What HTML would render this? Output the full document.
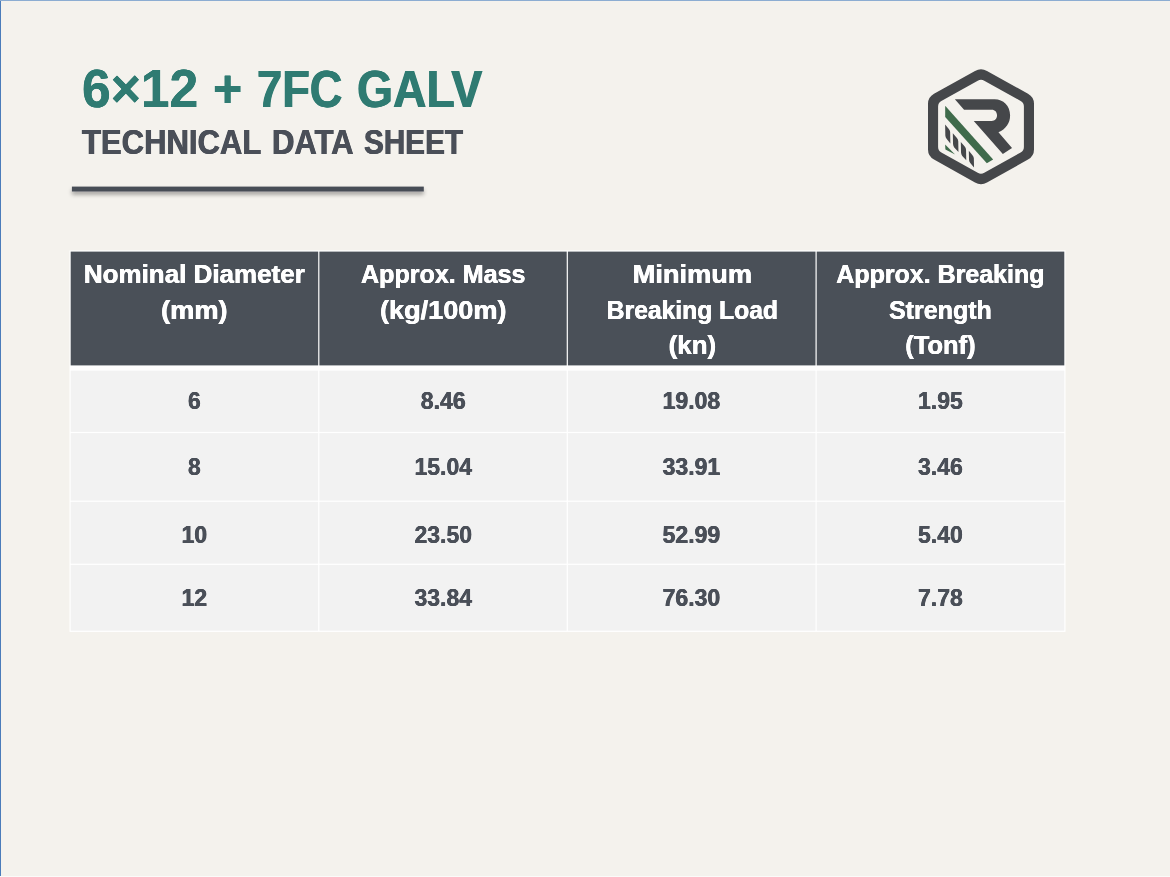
<!DOCTYPE html>
<html lang="en">
<head>
<meta charset="utf-8">
<title>6×12 + 7FC GALV – Technical Data Sheet</title>
<style>
html,body{margin:0;padding:0;}
body{width:1170px;height:877px;position:relative;overflow:hidden;background:#f4f2ed;
  font-family:"Liberation Sans",sans-serif;font-weight:bold;color:#4a4f58;}
.edge-l{position:absolute;left:0;top:0;width:1px;height:877px;background:#4a7cba;}
.edge-t{position:absolute;left:0;top:0;width:1170px;height:1px;background:#8cadd2;}
.edge-b{position:absolute;left:0;top:876px;width:1170px;height:1px;background:#fbfbf9;}
.t{position:absolute;left:0;top:0;width:700px;height:0;white-space:nowrap;line-height:1;margin:0;font-weight:bold;}
.t span{position:absolute;transform-origin:0 0;}
h1.t{color:#2f7b72;}
h2.t{color:#4a4f58;}
svg{position:absolute;left:0;top:0;}
.th,.td{position:absolute;text-align:center;white-space:nowrap;}
.th{top:257.45px;color:#fff;font-size:26px;line-height:35.3px;text-shadow:0.3px 0 0 #fff,-0.3px 0 0 #fff;}
.th span{display:block;transform-origin:50% 50%;}
.td{height:40px;line-height:40px;font-size:23.2px;color:#4a4f58;text-shadow:0.3px 0 0 #4a4f58,-0.3px 0 0 #4a4f58;}
.td span{display:block;transform-origin:50% 50%;}
</style>
</head>
<body>
<div class="edge-l"></div><div class="edge-t"></div><div class="edge-b"></div>
<h1 class="t"><span style="left:82.29px;top:61.66px;font-size:53.8px;text-shadow:0.2px 0 0 currentColor,-0.2px 0 0 currentColor;transform:scaleX(0.9592)">6×12</span> <span style="left:213.47px;top:61.49px;font-size:54px;text-shadow:0.3px 0 0 currentColor,-0.3px 0 0 currentColor;transform:scaleX(0.9263)">+</span> <span style="left:256.79px;top:62.76px;font-size:52.5px;text-shadow:0.6px 0 0 currentColor,-0.6px 0 0 currentColor;transform:scaleX(0.8623)">7FC</span> <span style="left:356.50px;top:62.58px;font-size:52px;text-shadow:0.6px 0 0 currentColor,-0.6px 0 0 currentColor;transform:scaleX(0.8910)">GALV</span></h1>
<h2 class="t"><span style="left:82.12px;top:124.56px;font-size:35.6px;text-shadow:0.45px 0 0 currentColor,-0.45px 0 0 currentColor;transform:scaleX(0.8724)">TECHNICAL</span> <span style="left:271.78px;top:124.56px;font-size:35.6px;text-shadow:0.45px 0 0 currentColor,-0.45px 0 0 currentColor;transform:scaleX(0.8730)">DATA</span> <span style="left:364.11px;top:124.56px;font-size:35.6px;text-shadow:0.45px 0 0 currentColor,-0.45px 0 0 currentColor;transform:scaleX(0.8345)">SHEET</span></h2>
<svg class="rule" width="1170" height="877" viewBox="0 0 1170 877">
<defs><filter id="sh" x="-5%" y="-200%" width="110%" height="600%"><feGaussianBlur in="SourceAlpha" stdDeviation="2"/><feOffset dx="0.3" dy="2.7"/><feComponentTransfer><feFuncA type="linear" slope="0.36"/></feComponentTransfer><feMerge><feMergeNode/><feMergeNode in="SourceGraphic"/></feMerge></filter></defs>
<rect x="71.9" y="186.6" width="351.9" height="4.9" fill="#474d56" filter="url(#sh)"/>
</svg>
<svg class="logo" width="1170" height="877" viewBox="0 0 1170 877">
<path d="M975.00,70.93 A12.00,11.59 0 0 1 987.00,70.93 L1028.00,93.79 A12.00,11.59 0 0 1 1034.00,103.83 L1034.00,149.57 A12.00,11.59 0 0 1 1028.00,159.61 L987.00,182.47 A12.00,11.59 0 0 1 975.00,182.47 L934.00,159.61 A12.00,11.59 0 0 1 928.00,149.57 L928.00,103.83 A12.00,11.59 0 0 1 934.00,93.79 Z M977.75,80.66 A6.50,6.28 0 0 1 984.25,80.66 L1020.65,100.96 A6.50,6.28 0 0 1 1023.90,106.40 L1023.90,147.00 A6.50,6.28 0 0 1 1020.65,152.44 L984.25,172.74 A6.50,6.28 0 0 1 977.75,172.74 L941.35,152.44 A6.50,6.28 0 0 1 938.10,147.00 L938.10,106.40 A6.50,6.28 0 0 1 941.35,100.96 Z" fill="#45474a" fill-rule="evenodd"/>
<path d="M 954.86,99.34 L 994.59,99.34 C 1003.31,99.34 1010.10,105.83 1010.10,115.52 C 1010.10,123.28 1005.74,129.09 998.47,132.29 L 1012.03,147.98 L 1002.83,153.99 L 973.76,121.05 L 991.69,121.05 C 995.08,121.05 997.02,118.43 997.02,115.33 C 997.02,112.13 995.08,109.71 991.69,109.71 L 964.07,109.71 Z" fill="#45474a"/>
<path d="M 945.17,105.83 L 993.14,159.61 L 986.84,163.29 L 945.17,116.98 Z" fill="#3f6b4b"/>
<path d="M 945.13,144.41 L 955.08,154.46 L 945.44,149.44 Z" fill="#3f6b4b"/>
<path d="M 945.13,124.62 L 948.82,128.92 Q 950.05,130.26 950.15,132.10 L 950.36,143.38 L 946.56,138.87 Q 945.44,137.64 945.33,135.59 Z" fill="#45474a"/>
<path d="M 952.82,133.33 L 956.92,137.95 Q 958.15,139.28 958.26,141.13 L 958.46,152.00 L 954.26,147.38 Q 953.13,146.15 953.03,144.10 Z" fill="#45474a"/>
<path d="M 960.82,142.05 L 964.72,146.56 Q 965.95,147.90 966.05,149.74 L 966.26,160.31 L 962.26,155.90 Q 961.13,154.67 961.03,152.62 Z" fill="#45474a"/>
<path d="M 968.82,150.77 L 972.51,155.18 Q 973.74,156.51 973.85,158.36 L 974.05,167.38 L 970.26,163.08 Q 969.13,161.85 969.03,159.79 Z" fill="#45474a"/>
</svg>
<svg class="grid" width="1170" height="877" viewBox="0 0 1170 877">
<rect x="69.5" y="250.4" width="996" height="381.5" fill="#ffffff"/>
<rect x="70.70" y="251.6" width="247.50" height="113.80" fill="#4a5058"/>
<rect x="70.70" y="370.60" width="247.50" height="61.30" fill="#f2f2f2"/>
<rect x="70.70" y="433.10" width="247.50" height="67.50" fill="#f2f2f2"/>
<rect x="70.70" y="501.80" width="247.50" height="61.90" fill="#f2f2f2"/>
<rect x="70.70" y="564.90" width="247.50" height="65.80" fill="#f2f2f2"/>
<rect x="319.40" y="251.6" width="247.30" height="113.80" fill="#4a5058"/>
<rect x="319.40" y="370.60" width="247.30" height="61.30" fill="#f2f2f2"/>
<rect x="319.40" y="433.10" width="247.30" height="67.50" fill="#f2f2f2"/>
<rect x="319.40" y="501.80" width="247.30" height="61.90" fill="#f2f2f2"/>
<rect x="319.40" y="564.90" width="247.30" height="65.80" fill="#f2f2f2"/>
<rect x="567.90" y="251.6" width="247.60" height="113.80" fill="#4a5058"/>
<rect x="567.90" y="370.60" width="247.60" height="61.30" fill="#f2f2f2"/>
<rect x="567.90" y="433.10" width="247.60" height="67.50" fill="#f2f2f2"/>
<rect x="567.90" y="501.80" width="247.60" height="61.90" fill="#f2f2f2"/>
<rect x="567.90" y="564.90" width="247.60" height="65.80" fill="#f2f2f2"/>
<rect x="816.70" y="251.6" width="247.60" height="113.80" fill="#4a5058"/>
<rect x="816.70" y="370.60" width="247.60" height="61.30" fill="#f2f2f2"/>
<rect x="816.70" y="433.10" width="247.60" height="67.50" fill="#f2f2f2"/>
<rect x="816.70" y="501.80" width="247.60" height="61.90" fill="#f2f2f2"/>
<rect x="816.70" y="564.90" width="247.60" height="65.80" fill="#f2f2f2"/>
</svg>
<div class="th" style="left:70.1px;width:248.7px"><span style="transform:scaleX(0.9995)">Nominal Diameter</span><span style="transform:scaleX(1.0457)">(mm)</span></div>
<div class="th" style="left:318.8px;width:248.5px"><span style="transform:scaleX(0.9649)">Approx. Mass</span><span style="transform:scaleX(1.0426)">(kg/100m)</span></div>
<div class="th" style="left:567.9px;width:248.8px"><span style="transform:scaleX(1.0472)">Minimum</span><span style="transform:scaleX(0.9476)">Breaking Load</span><span style="transform:scaleX(0.9963)">(kn)</span></div>
<div class="th" style="left:816.1px;width:248.8px"><span style="transform:scaleX(0.9605)">Approx. Breaking</span><span style="transform:scaleX(0.9628)">Strength</span><span style="transform:scaleX(0.9822)">(Tonf)</span></div>
<div class="td" style="left:70.1px;width:248.7px;top:381.4px"><span style="transform:scaleX(0.986)">6</span></div>
<div class="td" style="left:318.8px;width:248.5px;top:381.4px"><span style="transform:scaleX(0.9937)">8.46</span></div>
<div class="td" style="left:567.3px;width:248.8px;top:381.4px"><span style="transform:scaleX(0.992)">19.08</span></div>
<div class="td" style="left:816.1px;width:248.8px;top:381.4px"><span style="transform:scaleX(0.9937)">1.95</span></div>
<div class="td" style="left:70.1px;width:248.7px;top:447.1px"><span style="transform:scaleX(0.986)">8</span></div>
<div class="td" style="left:318.8px;width:248.5px;top:447.1px"><span style="transform:scaleX(0.992)">15.04</span></div>
<div class="td" style="left:567.3px;width:248.8px;top:447.1px"><span style="transform:scaleX(0.992)">33.91</span></div>
<div class="td" style="left:816.1px;width:248.8px;top:447.1px"><span style="transform:scaleX(0.9937)">3.46</span></div>
<div class="td" style="left:70.1px;width:248.7px;top:515.2px"><span style="transform:scaleX(0.986)">10</span></div>
<div class="td" style="left:318.8px;width:248.5px;top:515.2px"><span style="transform:scaleX(0.992)">23.50</span></div>
<div class="td" style="left:567.3px;width:248.8px;top:515.2px"><span style="transform:scaleX(0.992)">52.99</span></div>
<div class="td" style="left:816.1px;width:248.8px;top:515.2px"><span style="transform:scaleX(0.9937)">5.40</span></div>
<div class="td" style="left:70.1px;width:248.7px;top:578.4px"><span style="transform:scaleX(0.986)">12</span></div>
<div class="td" style="left:318.8px;width:248.5px;top:578.4px"><span style="transform:scaleX(0.992)">33.84</span></div>
<div class="td" style="left:567.3px;width:248.8px;top:578.4px"><span style="transform:scaleX(0.992)">76.30</span></div>
<div class="td" style="left:816.1px;width:248.8px;top:578.4px"><span style="transform:scaleX(0.9937)">7.78</span></div>
</body>
</html>
